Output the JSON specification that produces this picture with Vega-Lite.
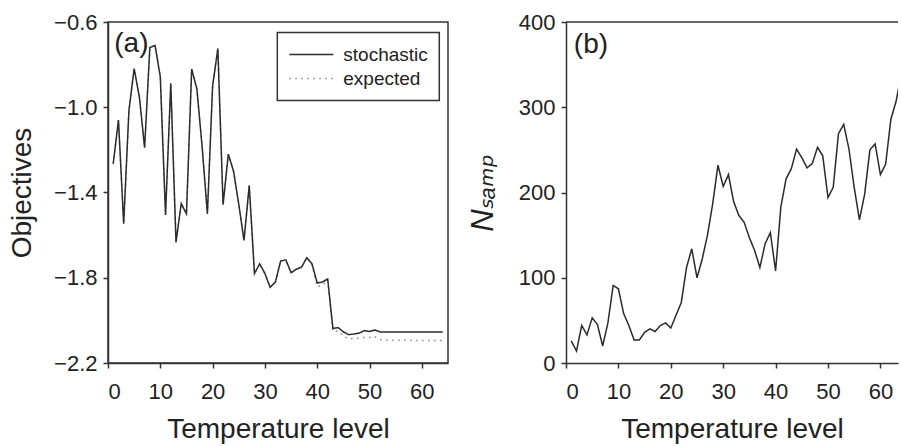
{
  "$schema": "https://vega.github.io/schema/vega-lite/v6.json",
  "padding": {"left": 7, "top": 10, "right": 0, "bottom": 0},
  "spacing": 18,
  "background": "white",
  "config": {
    "font": "Liberation Sans",
    "view": {"stroke": "#333", "strokeWidth": 1.5},
    "axis": {
      "grid": false,
      "domainColor": "#333",
      "domainWidth": 1.5,
      "tickColor": "#333",
      "tickWidth": 1.5,
      "tickSize": 5,
      "labelFontSize": 22,
      "labelColor": "#222",
      "labelPadding": 6,
      "titleFontSize": 28,
      "titleFontWeight": "normal",
      "titleColor": "#222"
    },
    "axisX": {"labelPadding": 13, "titlePadding": 13},
    "axisY": {"titlePadding": 17},
    "legend": {
      "orient": "none",
      "legendX": 169.3,
      "legendY": 10.6,
      "fillColor": "white",
      "strokeColor": "#333",
      "strokeWidth": 1.5,
      "padding": 11,
      "symbolType": "M-1,0H1",
      "symbolSize": 1936,
      "symbolStrokeWidth": 1.5,
      "clipHeight": 22,
      "labelFontSize": 19,
      "labelColor": "#222",
      "labelOffset": 9,
      "rowPadding": 2
    }
  },
  "datasets": {
    "obj": [
      {"level": 1, "value": -1.265, "series": "expected"},
      {"level": 2, "value": -1.06, "series": "expected"},
      {"level": 3, "value": -1.546, "series": "expected"},
      {"level": 4, "value": -1.015, "series": "expected"},
      {"level": 5, "value": -0.819, "series": "expected"},
      {"level": 6, "value": -0.952, "series": "expected"},
      {"level": 7, "value": -1.19, "series": "expected"},
      {"level": 8, "value": -0.72, "series": "expected"},
      {"level": 9, "value": -0.71, "series": "expected"},
      {"level": 10, "value": -0.858, "series": "expected"},
      {"level": 11, "value": -1.505, "series": "expected"},
      {"level": 12, "value": -0.888, "series": "expected"},
      {"level": 13, "value": -1.633, "series": "expected"},
      {"level": 14, "value": -1.452, "series": "expected"},
      {"level": 15, "value": -1.5, "series": "expected"},
      {"level": 16, "value": -0.821, "series": "expected"},
      {"level": 17, "value": -0.915, "series": "expected"},
      {"level": 18, "value": -1.187, "series": "expected"},
      {"level": 19, "value": -1.5, "series": "expected"},
      {"level": 20, "value": -0.9, "series": "expected"},
      {"level": 21, "value": -0.725, "series": "expected"},
      {"level": 22, "value": -1.457, "series": "expected"},
      {"level": 23, "value": -1.22, "series": "expected"},
      {"level": 24, "value": -1.3, "series": "expected"},
      {"level": 25, "value": -1.455, "series": "expected"},
      {"level": 26, "value": -1.625, "series": "expected"},
      {"level": 27, "value": -1.367, "series": "expected"},
      {"level": 28, "value": -1.78, "series": "expected"},
      {"level": 29, "value": -1.735, "series": "expected"},
      {"level": 30, "value": -1.78, "series": "expected"},
      {"level": 31, "value": -1.845, "series": "expected"},
      {"level": 32, "value": -1.82, "series": "expected"},
      {"level": 33, "value": -1.722, "series": "expected"},
      {"level": 34, "value": -1.716, "series": "expected"},
      {"level": 35, "value": -1.776, "series": "expected"},
      {"level": 36, "value": -1.76, "series": "expected"},
      {"level": 37, "value": -1.75, "series": "expected"},
      {"level": 38, "value": -1.706, "series": "expected"},
      {"level": 39, "value": -1.74, "series": "expected"},
      {"level": 40, "value": -1.842, "series": "expected"},
      {"level": 41, "value": -1.836, "series": "expected"},
      {"level": 42, "value": -1.812, "series": "expected"},
      {"level": 43, "value": -2.052, "series": "expected"},
      {"level": 44, "value": -2.05, "series": "expected"},
      {"level": 45, "value": -2.074, "series": "expected"},
      {"level": 46, "value": -2.087, "series": "expected"},
      {"level": 47, "value": -2.085, "series": "expected"},
      {"level": 48, "value": -2.083, "series": "expected"},
      {"level": 49, "value": -2.08, "series": "expected"},
      {"level": 50, "value": -2.08, "series": "expected"},
      {"level": 51, "value": -2.076, "series": "expected"},
      {"level": 52, "value": -2.09, "series": "expected"},
      {"level": 53, "value": -2.093, "series": "expected"},
      {"level": 54, "value": -2.093, "series": "expected"},
      {"level": 55, "value": -2.093, "series": "expected"},
      {"level": 56, "value": -2.093, "series": "expected"},
      {"level": 57, "value": -2.093, "series": "expected"},
      {"level": 58, "value": -2.094, "series": "expected"},
      {"level": 59, "value": -2.094, "series": "expected"},
      {"level": 60, "value": -2.094, "series": "expected"},
      {"level": 61, "value": -2.094, "series": "expected"},
      {"level": 62, "value": -2.095, "series": "expected"},
      {"level": 63, "value": -2.095, "series": "expected"},
      {"level": 64, "value": -2.095, "series": "expected"},
      {"level": 1, "value": -1.265, "series": "stochastic"},
      {"level": 2, "value": -1.06, "series": "stochastic"},
      {"level": 3, "value": -1.546, "series": "stochastic"},
      {"level": 4, "value": -1.015, "series": "stochastic"},
      {"level": 5, "value": -0.819, "series": "stochastic"},
      {"level": 6, "value": -0.952, "series": "stochastic"},
      {"level": 7, "value": -1.19, "series": "stochastic"},
      {"level": 8, "value": -0.72, "series": "stochastic"},
      {"level": 9, "value": -0.71, "series": "stochastic"},
      {"level": 10, "value": -0.858, "series": "stochastic"},
      {"level": 11, "value": -1.505, "series": "stochastic"},
      {"level": 12, "value": -0.888, "series": "stochastic"},
      {"level": 13, "value": -1.633, "series": "stochastic"},
      {"level": 14, "value": -1.452, "series": "stochastic"},
      {"level": 15, "value": -1.5, "series": "stochastic"},
      {"level": 16, "value": -0.821, "series": "stochastic"},
      {"level": 17, "value": -0.915, "series": "stochastic"},
      {"level": 18, "value": -1.187, "series": "stochastic"},
      {"level": 19, "value": -1.5, "series": "stochastic"},
      {"level": 20, "value": -0.9, "series": "stochastic"},
      {"level": 21, "value": -0.725, "series": "stochastic"},
      {"level": 22, "value": -1.457, "series": "stochastic"},
      {"level": 23, "value": -1.22, "series": "stochastic"},
      {"level": 24, "value": -1.3, "series": "stochastic"},
      {"level": 25, "value": -1.455, "series": "stochastic"},
      {"level": 26, "value": -1.625, "series": "stochastic"},
      {"level": 27, "value": -1.367, "series": "stochastic"},
      {"level": 28, "value": -1.78, "series": "stochastic"},
      {"level": 29, "value": -1.735, "series": "stochastic"},
      {"level": 30, "value": -1.78, "series": "stochastic"},
      {"level": 31, "value": -1.845, "series": "stochastic"},
      {"level": 32, "value": -1.82, "series": "stochastic"},
      {"level": 33, "value": -1.722, "series": "stochastic"},
      {"level": 34, "value": -1.716, "series": "stochastic"},
      {"level": 35, "value": -1.776, "series": "stochastic"},
      {"level": 36, "value": -1.76, "series": "stochastic"},
      {"level": 37, "value": -1.75, "series": "stochastic"},
      {"level": 38, "value": -1.706, "series": "stochastic"},
      {"level": 39, "value": -1.735, "series": "stochastic"},
      {"level": 40, "value": -1.825, "series": "stochastic"},
      {"level": 41, "value": -1.82, "series": "stochastic"},
      {"level": 42, "value": -1.806, "series": "stochastic"},
      {"level": 43, "value": -2.038, "series": "stochastic"},
      {"level": 44, "value": -2.034, "series": "stochastic"},
      {"level": 45, "value": -2.054, "series": "stochastic"},
      {"level": 46, "value": -2.067, "series": "stochastic"},
      {"level": 47, "value": -2.064, "series": "stochastic"},
      {"level": 48, "value": -2.06, "series": "stochastic"},
      {"level": 49, "value": -2.048, "series": "stochastic"},
      {"level": 50, "value": -2.052, "series": "stochastic"},
      {"level": 51, "value": -2.045, "series": "stochastic"},
      {"level": 52, "value": -2.054, "series": "stochastic"},
      {"level": 53, "value": -2.054, "series": "stochastic"},
      {"level": 54, "value": -2.054, "series": "stochastic"},
      {"level": 55, "value": -2.054, "series": "stochastic"},
      {"level": 56, "value": -2.054, "series": "stochastic"},
      {"level": 57, "value": -2.054, "series": "stochastic"},
      {"level": 58, "value": -2.054, "series": "stochastic"},
      {"level": 59, "value": -2.054, "series": "stochastic"},
      {"level": 60, "value": -2.054, "series": "stochastic"},
      {"level": 61, "value": -2.054, "series": "stochastic"},
      {"level": 62, "value": -2.054, "series": "stochastic"},
      {"level": 63, "value": -2.054, "series": "stochastic"},
      {"level": 64, "value": -2.054, "series": "stochastic"}
    ],
    "nsamp": [
      {"level": 1, "n": 26}, {"level": 2, "n": 14}, {"level": 3, "n": 44}, {"level": 4, "n": 33},
      {"level": 5, "n": 53}, {"level": 6, "n": 45}, {"level": 7, "n": 20}, {"level": 8, "n": 47},
      {"level": 9, "n": 91}, {"level": 10, "n": 87}, {"level": 11, "n": 58}, {"level": 12, "n": 44},
      {"level": 13, "n": 27}, {"level": 14, "n": 27}, {"level": 15, "n": 36}, {"level": 16, "n": 40},
      {"level": 17, "n": 37}, {"level": 18, "n": 44}, {"level": 19, "n": 47}, {"level": 20, "n": 41},
      {"level": 21, "n": 56}, {"level": 22, "n": 71}, {"level": 23, "n": 112}, {"level": 24, "n": 134},
      {"level": 25, "n": 100}, {"level": 26, "n": 122}, {"level": 27, "n": 150}, {"level": 28, "n": 187},
      {"level": 29, "n": 232}, {"level": 30, "n": 207}, {"level": 31, "n": 221}, {"level": 32, "n": 189},
      {"level": 33, "n": 173}, {"level": 34, "n": 165}, {"level": 35, "n": 147}, {"level": 36, "n": 132},
      {"level": 37, "n": 112}, {"level": 38, "n": 140}, {"level": 39, "n": 153}, {"level": 40, "n": 108},
      {"level": 41, "n": 183}, {"level": 42, "n": 216}, {"level": 43, "n": 228}, {"level": 44, "n": 251},
      {"level": 45, "n": 241}, {"level": 46, "n": 229}, {"level": 47, "n": 234}, {"level": 48, "n": 253},
      {"level": 49, "n": 243}, {"level": 50, "n": 194}, {"level": 51, "n": 206}, {"level": 52, "n": 269},
      {"level": 53, "n": 280}, {"level": 54, "n": 251}, {"level": 55, "n": 206}, {"level": 56, "n": 168},
      {"level": 57, "n": 198}, {"level": 58, "n": 250}, {"level": 59, "n": 257}, {"level": 60, "n": 221},
      {"level": 61, "n": 233}, {"level": 62, "n": 286}, {"level": 63, "n": 307}, {"level": 64, "n": 340}
    ]
  },
  "hconcat": [
    {
      "width": 340,
      "height": 341,
      "layer": [
        {
          "data": {"name": "obj"},
          "mark": {"type": "line", "strokeWidth": 1.5, "clip": true},
          "encoding": {
            "x": {
              "field": "level", "type": "quantitative",
              "scale": {"domain": [0, 65], "nice": false},
              "axis": {"values": [0, 10, 20, 30, 40, 50, 60], "title": "Temperature level"}
            },
            "y": {
              "field": "value", "type": "quantitative",
              "scale": {"domain": [-2.2, -0.6], "nice": false, "zero": false},
              "axis": {"values": [-2.2, -1.8, -1.4, -1.0, -0.6], "format": ".1f", "title": "Objectives"}
            },
            "color": {
              "field": "series", "type": "nominal",
              "scale": {"domain": ["stochastic", "expected"], "range": ["#2b2b2b", "#8a8a8a"]},
              "legend": {"title": null}
            },
            "strokeDash": {
              "field": "series", "type": "nominal",
              "scale": {"domain": ["stochastic", "expected"], "range": [[1, 0], [1.5, 4.5]]},
              "legend": {"title": null}
            }
          }
        },
        {
          "data": {"values": [{}]},
          "mark": {"type": "text", "fontSize": 28, "align": "left", "baseline": "alphabetic", "color": "#222"},
          "encoding": {
            "x": {"datum": 1.2, "type": "quantitative"},
            "y": {"datum": -0.742, "type": "quantitative"},
            "text": {"value": "(a)"}
          }
        }
      ]
    },
    {
      "width": 332,
      "height": 341,
      "view": {"stroke": null},
      "layer": [
        {
          "data": {"name": "nsamp"},
          "mark": {"type": "line", "strokeWidth": 1.5, "clip": true, "color": "#2b2b2b"},
          "encoding": {
            "x": {
              "field": "level", "type": "quantitative",
              "scale": {"domain": [0, 63.36], "nice": false},
              "axis": {"values": [0, 10, 20, 30, 40, 50, 60], "title": "Temperature level"}
            },
            "y": {
              "field": "n", "type": "quantitative",
              "scale": {"domain": [0, 400], "nice": false},
              "axis": {"values": [0, 100, 200, 300, 400], "title": "Nₛₐₘₚ", "titleFontStyle": "italic", "titleFontSize": 31, "titlePadding": 19, "titleFont": "Liberation Sans, DejaVu Sans"}
            }
          }
        },
        {
          "data": {"values": [{}]},
          "mark": {"type": "rule", "color": "#333", "strokeWidth": 1.5},
          "encoding": {
            "y": {"datum": 400, "type": "quantitative"}
          }
        },
        {
          "data": {"values": [{}]},
          "mark": {"type": "text", "fontSize": 28, "align": "left", "baseline": "alphabetic", "color": "#222"},
          "encoding": {
            "x": {"datum": 1.5, "type": "quantitative"},
            "y": {"datum": 364, "type": "quantitative"},
            "text": {"value": "(b)"}
          }
        }
      ]
    }
  ]
}
